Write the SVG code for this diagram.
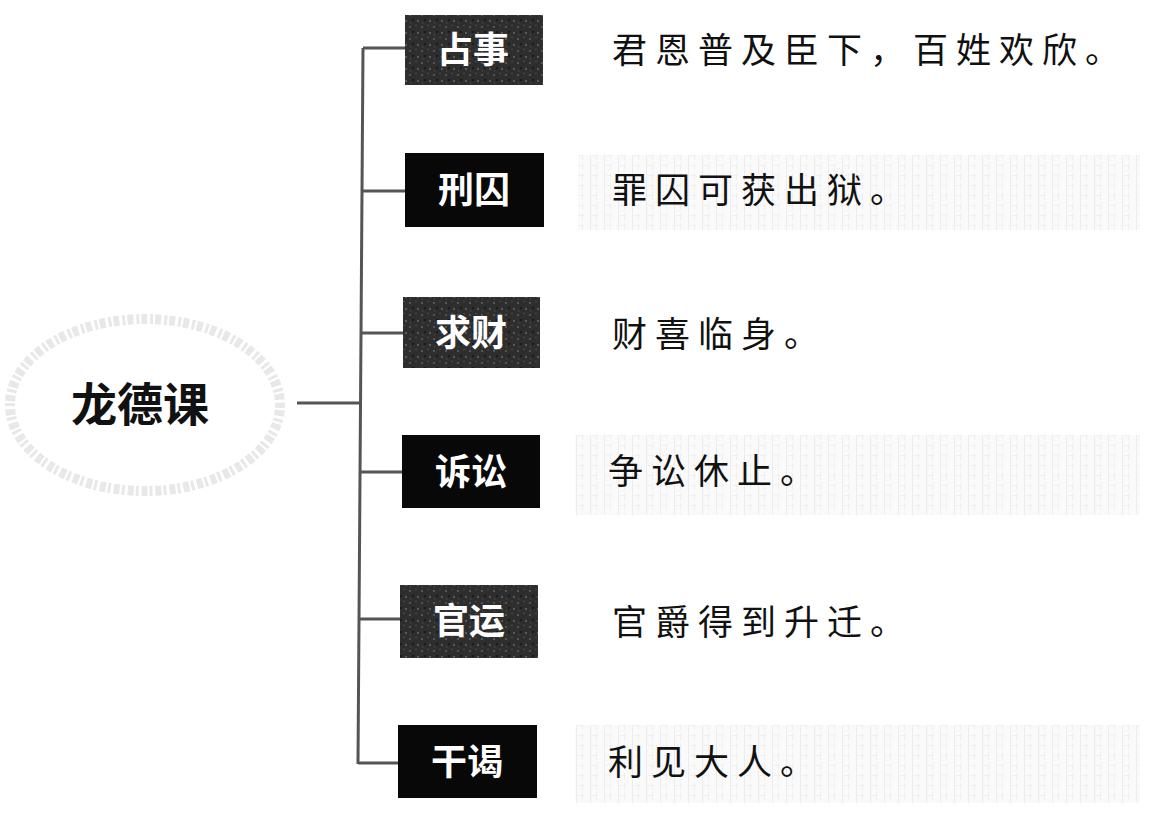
<svg xmlns="http://www.w3.org/2000/svg" width="1170" height="813" viewBox="0 0 1170 813">
<style>
.lbl{font-family:"Noto Sans CJK SC","Noto Sans",sans-serif;font-weight:bold;font-size:36px;fill:#fff;text-anchor:middle}
.txt{font-family:"Noto Sans CJK SC","Noto Sans",sans-serif;font-size:35px;fill:#111;letter-spacing:8px}
.conn{stroke:#555;stroke-width:3;fill:none}
.boxb{fill:#080808}
.boxg{fill:url(#noise)}
.panel{fill:url(#faint)}
</style>
<defs>
<pattern id="noise" width="12" height="12" patternUnits="userSpaceOnUse">
<rect width="12" height="12" fill="#2e2e2e"/>
<rect x="1" y="2" width="2" height="2" fill="#555"/>
<rect x="7" y="1" width="2" height="1" fill="#4a4a4a"/>
<rect x="4" y="7" width="2" height="2" fill="#1a1a1a"/>
<rect x="9" y="8" width="2" height="2" fill="#595959"/>
<rect x="2" y="10" width="1" height="2" fill="#444"/>
</pattern>
<pattern id="faint" width="14" height="10" patternUnits="userSpaceOnUse">
<rect width="14" height="10" fill="#fafafa"/>
<rect x="2" y="0" width="1" height="10" fill="#ececec"/>
<rect x="8" y="3" width="1" height="7" fill="#efefef"/>
<rect x="4" y="5" width="6" height="1" fill="#f0f0f0"/>
</pattern>
</defs>
<rect width="1170" height="813" fill="#fff"/>
<g id="panels">
<rect class="panel" x="578" y="155" width="562" height="75"/>
<rect class="panel" x="575" y="435" width="565" height="80"/>
<rect class="panel" x="575" y="725" width="565" height="78"/>
</g>
<g id="connectors">
<line class="conn" x1="297" y1="403" x2="361" y2="403"/>
<line class="conn" x1="363" y1="48" x2="358" y2="764"/>
<line class="conn" x1="363" y1="48" x2="405" y2="48"/>
<line class="conn" x1="362" y1="191" x2="405" y2="191"/>
<line class="conn" x1="361" y1="333" x2="403" y2="333"/>
<line class="conn" x1="360" y1="472" x2="402" y2="472"/>
<line class="conn" x1="359" y1="619" x2="400" y2="619"/>
<line class="conn" x1="358" y1="763" x2="398" y2="763"/>
</g>
<g id="root">
<ellipse cx="145" cy="405" rx="135" ry="86" fill="none" stroke="#e8e8e8" stroke-width="10" stroke-dasharray="3 2 6 3"/>
<text x="140" y="421" style="font-family:'Noto Sans CJK SC','Noto Sans',sans-serif;font-weight:bold;font-size:46px;fill:#111;text-anchor:middle">龙德课</text>
</g>
<g id="n1"><rect class="boxg" x="405" y="15" width="138" height="70"/><text class="lbl" x="473" y="63">占事</text><text class="txt" x="612" y="63">君恩普及臣下，百姓欢欣。</text></g>
<g id="n2"><rect class="boxb" x="405" y="153" width="139" height="74"/><text class="lbl" x="474" y="203">刑囚</text><text class="txt" x="612" y="203">罪囚可获出狱。</text></g>
<g id="n3"><rect class="boxg" x="403" y="297" width="137" height="71"/><text class="lbl" x="471" y="346">求财</text><text class="txt" x="612" y="347">财喜临身。</text></g>
<g id="n4"><rect class="boxb" x="402" y="435" width="138" height="73"/><text class="lbl" x="471" y="485">诉讼</text><text class="txt" x="608" y="484">争讼休止。</text></g>
<g id="n5"><rect class="boxg" x="400" y="585" width="138" height="73"/><text class="lbl" x="469" y="634">官运</text><text class="txt" x="612" y="635">官爵得到升迁。</text></g>
<g id="n6"><rect class="boxb" x="398" y="725" width="139" height="73"/><text class="lbl" x="467" y="775">干谒</text><text class="txt" x="608" y="775">利见大人。</text></g>
</svg>
